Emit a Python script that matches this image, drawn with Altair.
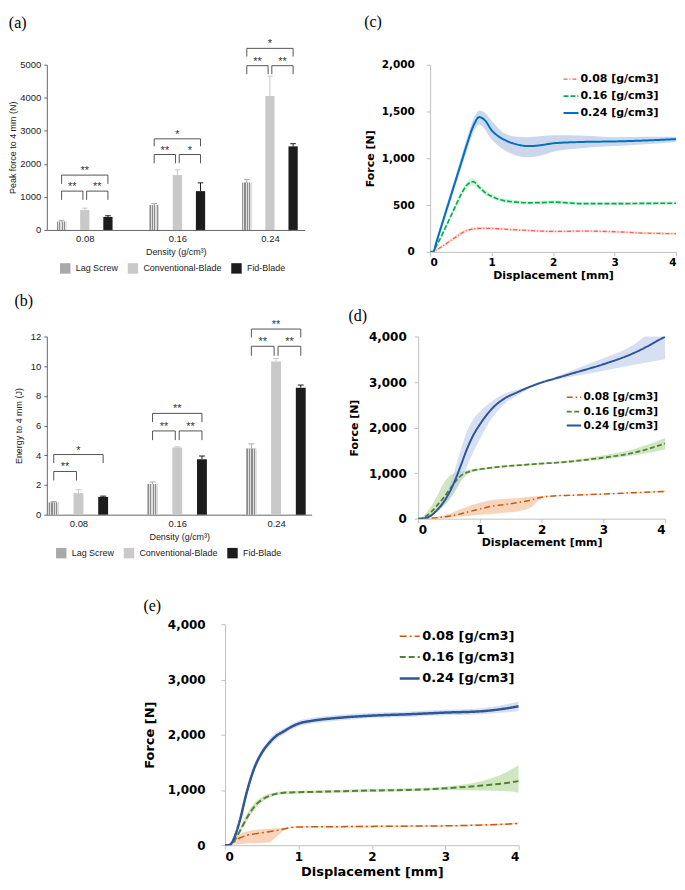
import altair as alt
import pandas as pd

# ---------------- categories ----------------
densities = ["0.08", "0.16", "0.24"]
devices = ["Lag Screw", "Conventional-Blade", "Fid-Blade"]

# ---------------- (a) peak force to 4 mm (N) ----------------
peak_lag = [250, 750, 1430]
peak_lag_sd = [40, 50, 100]
peak_conv = [605, 1660, 4050]
peak_conv_sd = [55, 160, 600]
peak_fid = [395, 1175, 2530]
peak_fid_sd = [35, 250, 80]
# (density idx, from device idx, to device idx, bracket level, bracket end, mark)
peak_sig = [
    (0, 0, 1, 1175, 910, "**"), (0, 1, 2, 1175, 910, "**"), (0, 0, 2, 1660, 1393, "**"),
    (1, 0, 1, 2283, 2016, "**"), (1, 1, 2, 2283, 2016, "*"), (1, 0, 2, 2757, 2530, "*"),
    (2, 0, 1, 4970, 4713, "**"), (2, 1, 2, 4970, 4713, "**"), (2, 0, 2, 5494, 5247, "*"),
]

# ---------------- (b) energy to 4 mm (J) ----------------
energy_lag = [0.82, 2.07, 4.45]
energy_lag_sd = [0.07, 0.13, 0.32]
energy_conv = [1.45, 4.52, 10.32]
energy_conv_sd = [0.23, 0.05, 0.2]
energy_fid = [1.2, 3.73, 8.55]
energy_fid_sd = [0.05, 0.22, 0.18]
energy_sig = [
    (0, 0, 1, 2.91, 2.3, "**"), (0, 0, 2, 4.05, 3.48, "*"),
    (1, 0, 1, 5.64, 5.02, "**"), (1, 1, 2, 5.64, 5.02, "**"), (1, 0, 2, 6.82, 6.23, "**"),
    (2, 0, 1, 11.34, 10.7, "**"), (2, 1, 2, 11.34, 10.7, "**"), (2, 0, 2, 12.5, 11.93, "**"),
]

# ---------------- (c) force-displacement ----------------
c_x = [0, 0.05, 0.1, 0.2, 0.3, 0.4, 0.5, 0.6, 0.7, 0.8, 0.9, 1.0, 1.1, 1.2, 1.4, 1.6, 1.8, 2.0, 2.5, 3.0, 3.5, 4.0]
c_008 = [0, 0, 20, 60, 105, 150, 195, 230, 245, 250, 250, 250, 247, 243, 235, 228, 222, 218, 222, 215, 200, 195]
c_008_lo = [0, 0, 10, 45, 88, 132, 176, 212, 228, 234, 235, 236, 234, 230, 222, 215, 209, 205, 210, 203, 188, 184]
c_008_hi = [0, 0, 30, 75, 122, 168, 214, 248, 262, 266, 265, 264, 260, 256, 248, 241, 235, 231, 234, 227, 212, 206]
c_016 = [0, 0, 60, 190, 330, 470, 610, 715, 750, 690, 630, 595, 565, 548, 532, 524, 526, 532, 515, 515, 518, 520]
c_016_lo = [0, 0, 45, 170, 305, 440, 575, 680, 710, 655, 600, 570, 543, 527, 512, 505, 507, 512, 498, 498, 500, 502]
c_016_hi = [0, 0, 75, 210, 355, 500, 645, 750, 790, 725, 660, 620, 587, 569, 552, 543, 545, 552, 532, 532, 536, 538]
c_024 = [0, 0, 100, 310, 520, 730, 940, 1150, 1340, 1440, 1400, 1300, 1240, 1200, 1150, 1130, 1140, 1160, 1175, 1180, 1190, 1205]
c_024_lo = [0, 0, 70, 270, 470, 680, 880, 1080, 1270, 1360, 1300, 1200, 1140, 1090, 1030, 1010, 1030, 1070, 1110, 1130, 1150, 1175]
c_024_hi = [0, 0, 130, 350, 570, 780, 1000, 1220, 1410, 1510, 1480, 1400, 1330, 1270, 1230, 1225, 1235, 1245, 1240, 1225, 1230, 1230]

# ---------------- (d) force-displacement ----------------
d_x = [0, 0.05, 0.1, 0.2, 0.3, 0.4, 0.5, 0.6, 0.7, 0.8, 0.9, 1.0, 1.1, 1.2, 1.4, 1.6, 1.8, 2.0, 2.2, 2.5, 3.0, 3.5, 4.0]
d_008 = [0, 0, 0, 10, 20, 35, 55, 80, 110, 145, 180, 215, 245, 275, 310, 350, 400, 470, 500, 515, 540, 570, 600]
d_008_lo = [0, 0, 0, 0, 5, 10, 20, 30, 45, 60, 70, 85, 95, 105, 130, 160, 230, 440, 490, 505, 530, 560, 580]
d_008_hi = [0, 0, 5, 20, 40, 70, 110, 160, 210, 260, 310, 350, 385, 410, 430, 450, 480, 495, 510, 525, 550, 580, 620]
d_016 = [0, 0, 30, 130, 280, 440, 620, 810, 950, 1020, 1060, 1085, 1105, 1120, 1150, 1170, 1190, 1210, 1225, 1260, 1340, 1450, 1650]
d_016_lo = [0, 0, 10, 60, 150, 260, 400, 600, 830, 970, 1030, 1060, 1080, 1095, 1130, 1150, 1170, 1190, 1205, 1235, 1300, 1390, 1520]
d_016_hi = [0, 10, 80, 250, 480, 750, 930, 1010, 1040, 1065, 1090, 1110, 1130, 1145, 1170, 1190, 1210, 1230, 1250, 1290, 1390, 1530, 1770]
d_024 = [0, 0, 10, 60, 180, 340, 560, 850, 1200, 1560, 1850, 2070, 2260, 2420, 2640, 2770, 2890, 2990, 3070, 3190, 3390, 3640, 4000]
d_024_lo = [0, 0, 5, 40, 140, 280, 430, 620, 880, 1180, 1480, 1750, 2000, 2220, 2520, 2700, 2860, 2980, 3040, 3120, 3250, 3380, 3500]
d_024_hi = [0, 0, 20, 80, 220, 400, 700, 1100, 1550, 1950, 2200, 2350, 2480, 2580, 2740, 2830, 2910, 3000, 3100, 3260, 3520, 3830, 4400]

# ---------------- (e) force-displacement ----------------
e_x = [0, 0.05, 0.1, 0.15, 0.2, 0.3, 0.4, 0.5, 0.6, 0.7, 0.8, 0.9, 1.0, 1.2, 1.5, 2.0, 2.5, 3.0, 3.5, 3.8, 4.0]
e_008 = [0, 0, 30, 90, 130, 180, 205, 225, 245, 265, 295, 320, 330, 333, 335, 340, 345, 350, 365, 380, 395]
e_008_lo = [0, 0, 5, 15, 20, 30, 35, 40, 55, 150, 260, 310, 318, 320, 322, 327, 332, 337, 350, 365, 378]
e_008_hi = [0, 0, 60, 150, 200, 250, 275, 290, 300, 305, 315, 330, 345, 348, 350, 355, 360, 365, 380, 395, 412]
e_016 = [0, 0, 40, 130, 250, 500, 700, 820, 890, 930, 950, 955, 960, 965, 975, 990, 1000, 1030, 1080, 1120, 1160]
e_016_lo = [0, 0, 20, 100, 210, 440, 640, 780, 860, 905, 925, 932, 937, 942, 950, 965, 975, 1000, 990, 980, 950]
e_016_hi = [0, 10, 60, 170, 300, 570, 770, 870, 930, 960, 975, 980, 985, 990, 1000, 1015, 1030, 1060, 1160, 1300, 1450]
e_024 = [0, 0, 60, 220, 440, 980, 1400, 1670, 1850, 1980, 2060, 2140, 2200, 2255, 2300, 2345, 2370, 2400, 2425, 2470, 2515]
e_024_lo = [0, 0, 30, 170, 380, 920, 1340, 1610, 1790, 1920, 2010, 2090, 2150, 2205, 2250, 2300, 2320, 2350, 2370, 2400, 2430]
e_024_hi = [0, 10, 90, 270, 500, 1040, 1460, 1730, 1910, 2040, 2110, 2190, 2250, 2305, 2350, 2395, 2420, 2450, 2480, 2540, 2600]

SANS = "Liberation Sans"
BOLD = "DejaVu Sans"
SERIF = "Liberation Serif"
bar_colors = ["#a9a9a9", "#c9c9c9", "#1c1c1c"]


def hatch():
    stops = []
    n = 4
    for k in range(n):
        a, m, b = k / n, (k + 0.5) / n, (k + 1) / n
        stops += [alt.GradientStop(color="#8c8c8c", offset=a), alt.GradientStop(color="#8c8c8c", offset=m),
                  alt.GradientStop(color="#e0e0e0", offset=m), alt.GradientStop(color="#e0e0e0", offset=b)]
    return alt.LinearGradient(gradient="linear", stops=stops, x1=0, x2=1, y1=0, y2=0)


def ptitle(lines, offset, lh=None):
    kw = dict(text=lines, anchor="start", font=SERIF, fontSize=16, fontWeight="normal",
              color="#000", offset=offset, frame="bounds")
    if lh is not None:
        kw["lineHeight"] = lh
    return alt.TitleParams(**kw)


def bar_panel(lab, means, sds, sig, ymax, ystep, ytitle, xdom, w, h, half, lx, ly, t_off, ytpad):
    offs = [-0.25, 0.0, 0.25]
    cap, gap = 0.03, 0.02
    rows = []
    for di, dev in enumerate(devices):
        for gi in range(len(densities)):
            p = gi + offs[di]
            m = means[di][gi]
            rows.append({"device": dev, "pos": p, "l": p - half, "r": p + half, "cl": p - cap,
                         "cr": p + cap, "mean": m, "top": m + sds[di][gi], "zero": 0})
    bdf = pd.DataFrame(rows)
    srows = []
    for gi, a, b, yl, ye, txt in sig:
        xl = gi + offs[a] + (gap if a == 1 else 0)
        xr = gi + offs[b] - (gap if b == 1 else 0)
        srows.append({"xl": xl, "xr": xr, "xm": (xl + xr) / 2, "yl": yl, "ye": ye, "txt": txt})
    sdf = pd.DataFrame(srows)
    xs = alt.Scale(domain=xdom, nice=False, zero=False)
    ys = alt.Scale(domain=[0, ymax], nice=False, zero=True)
    lab_expr = "[" + ",".join(f"'{d}'" for d in densities) + "][datum.value]"
    xa = alt.Axis(values=list(range(len(densities))), labelExpr=lab_expr, ticks=False, grid=False,
                  domainColor="#666", labelFont=SANS, labelFontSize=9.5, labelColor="#222",
                  labelPadding=4, title="Density (g/cm³)", titleFont=SANS, titleFontSize=9,
                  titleFontWeight="normal", titleColor="#222", titlePadding=4)
    ya = alt.Axis(values=list(range(0, ymax + 1, ystep)), format="d", grid=False, domainColor="#666",
                  tickColor="#666", tickSize=3, labelFont=SANS, labelFontSize=9.5, labelColor="#222",
                  labelPadding=3, title=ytitle, titleFont=SANS, titleFontSize=9,
                  titleFontWeight="normal", titleColor="#222", titlePadding=ytpad)
    cs = alt.Scale(domain=devices, range=bar_colors)
    leg = alt.Legend(title=None, orient="none", legendX=lx, legendY=ly, direction="horizontal",
                     symbolType="square", symbolSize=110, symbolStrokeWidth=0, labelFont=SANS,
                     labelFontSize=9, labelFontWeight="normal", labelColor="#222", labelOffset=5,
                     columnPadding=9, padding=0)

    def X(f):
        return alt.X(f, scale=xs, axis=xa)

    def Y(f):
        return alt.Y(f, scale=ys, axis=ya)

    col = alt.Color("device:N", scale=cs, legend=leg)
    bars = alt.Chart(bdf).mark_bar().encode(x=X("l:Q"), x2="r:Q", y=Y("mean:Q"), y2="zero:Q", color=col)
    hat = alt.Chart(bdf).transform_filter(alt.datum.device == devices[0]).mark_bar(fill=hatch()).encode(
        x=X("l:Q"), x2="r:Q", y=Y("mean:Q"), y2="zero:Q")
    err = alt.Chart(bdf).mark_rule(strokeWidth=1).encode(x=X("pos:Q"), y=Y("mean:Q"), y2="top:Q", color=col)
    caps = alt.Chart(bdf).mark_rule(strokeWidth=1).encode(x=X("cl:Q"), x2="cr:Q", y=Y("top:Q"), color=col)
    hl = alt.Chart(sdf).mark_rule(color="#555", strokeWidth=1).encode(x=X("xl:Q"), x2="xr:Q", y=Y("yl:Q"))
    vl = alt.Chart(sdf).mark_rule(color="#555", strokeWidth=1).encode(x=X("xl:Q"), y=Y("ye:Q"), y2="yl:Q")
    vr = alt.Chart(sdf).mark_rule(color="#555", strokeWidth=1).encode(x=X("xr:Q"), y=Y("ye:Q"), y2="yl:Q")
    tx = alt.Chart(sdf).mark_text(font=SANS, fontSize=11, color="#333", baseline="middle", dy=-4).encode(
        x=X("xm:Q"), y=Y("yl:Q"), text="txt:N")
    return alt.layer(bars, hat, err, caps, hl, vl, vr, tx).properties(
        width=w, height=h, title=ptitle(lab, t_off))


def line_panel(title, xs_, series, ymax, ystep, w, h, cols, bcols, bop, dashes, widths,
               tfs, ttfs, lfs, lpad, tpad, xtpad, lx, ly, sym, rpad):
    labs = [f"{d} [g/cm3]" for d in densities]
    blabs = [f"band {d}" for d in densities]
    rows = []
    for lb, bl, (yv, lo, hi) in zip(labs, blabs, series):
        for x, y, a, b in zip(xs_, yv, lo, hi):
            rows.append({"lab": lb, "band": bl, "x": x, "y": y, "lo": a, "hi": b})
    df = pd.DataFrame(rows)
    xs = alt.Scale(domain=[0, 4], nice=False)
    ys = alt.Scale(domain=[0, ymax], nice=False)
    xa = alt.Axis(values=[0, 1, 2, 3, 4], format="d", grid=False, domainColor="#c0c0c0",
                  tickColor="#c0c0c0", tickSize=4, labelFont=BOLD, labelFontSize=tfs,
                  labelFontWeight="bold", labelColor="#000", labelPadding=2,
                  title="Displacement [mm]", titleFont=BOLD, titleFontSize=ttfs,
                  titleFontWeight="bold", titleColor="#000", titlePadding=xtpad)
    ya = alt.Axis(values=list(range(0, ymax + 1, ystep)), format=",.0f", grid=False,
                  domainColor="#c0c0c0", tickColor="#c0c0c0", tickSize=4, labelFont=BOLD,
                  labelFontSize=tfs, labelFontWeight="bold", labelColor="#000", labelPadding=lpad,
                  title="Force [N]", titleFont=BOLD, titleFontSize=ttfs, titleFontWeight="bold",
                  titleColor="#000", titlePadding=tpad)
    leg = alt.Legend(title=None, orient="none", legendX=lx, legendY=ly, symbolType="stroke",
                     symbolSize=sym, labelFont=BOLD, labelFontSize=lfs, labelFontWeight="bold",
                     labelColor="#000", labelOffset=1, rowPadding=rpad, padding=0)
    band = alt.Chart(df).mark_area(opacity=bop, interpolate="monotone", clip=True).encode(
        x=alt.X("x:Q", scale=xs, axis=xa), y=alt.Y("lo:Q", scale=ys, axis=ya), y2="hi:Q",
        fill=alt.Fill("band:N", scale=alt.Scale(domain=blabs, range=bcols), legend=None))
    line = alt.Chart(df).mark_line(interpolate="monotone", clip=True).encode(
        x=alt.X("x:Q", scale=xs, axis=xa), y=alt.Y("y:Q", scale=ys, axis=ya),
        color=alt.Color("lab:N", scale=alt.Scale(domain=labs, range=cols), legend=leg),
        strokeDash=alt.StrokeDash("lab:N", scale=alt.Scale(domain=labs, range=dashes), legend=leg),
        strokeWidth=alt.StrokeWidth("lab:N", scale=alt.Scale(domain=labs, range=widths), legend=leg))
    return alt.layer(band, line).properties(width=w, height=h, title=title)


excel_cols = ["#ff5b4f", "#00b050", "#0070c0"]
excel_bands = ["#f8c4b8", "#bfe3c8", "#a9bcdc"]
dark_cols = ["#c55a11", "#548235", "#2f5597"]
dark_bands = ["#f4b183", "#a9d18e", "#b4c7e7"]

pa = bar_panel("(a)", [peak_lag, peak_conv, peak_fid], [peak_lag_sd, peak_conv_sd, peak_fid_sd], peak_sig,
               5000, 1000, "Peak force to 4 mm  (N)", [-0.41, 2.375], 259, 166, 0.05, 13, 199, 7, 2)
pb = bar_panel("(b)", [energy_lag, energy_conv, energy_fid], [energy_lag_sd, energy_conv_sd, energy_fid_sd],
               energy_sig, 12, 2, "Energy to 4 mm  (J)", [-0.32, 2.36], 266, 179, 0.05, 9, 212, 10, 7)
pc = line_panel(ptitle(["", "(c)"], 30, 4), c_x,
                [(c_008, c_008_lo, c_008_hi), (c_016, c_016_lo, c_016_hi), (c_024, c_024_lo, c_024_hi)],
                2000, 500, 247, 188, excel_cols, excel_bands, 0.6,
                [[4, 2, 1, 2], [5, 2], [1, 0]], [1.3, 2, 2], 10.5, 11, 11, 12, 6, 1, 133, 6, 225, 3)
pd_ = line_panel(ptitle(["", "(d)"], 7, 6), d_x,
                 [(d_008, d_008_lo, d_008_hi), (d_016, d_016_lo, d_016_hi), (d_024, d_024_lo, d_024_hi)],
                 4000, 1000, 248, 183, dark_cols, dark_bands, 0.55,
                 [[6, 3, 1.5, 3], [5, 2.5], [1, 0]], [1.5, 2, 2], 12, 11, 10.5, 8, 9, 1, 148, 53, 210, 0)
pe = line_panel(ptitle("(e)", 4), e_x,
                [(e_008, e_008_lo, e_008_hi), (e_016, e_016_lo, e_016_hi), (e_024, e_024_lo, e_024_hi)],
                4000, 1000, 295, 222, dark_cols, dark_bands, 0.55,
                [[7, 3, 2, 3], [6, 3], [1, 0]], [1.5, 2.5, 2.2], 12, 13, 13, 16, 11, 3, 174, 1, 400, 3)

spacer = alt.Chart(pd.DataFrame({"v": [0.5]})).mark_point(opacity=0, size=1).encode(
    x=alt.X("v:Q", axis=None, scale=alt.Scale(domain=[0, 1])),
    y=alt.Y("v:Q", axis=None, scale=alt.Scale(domain=[0, 1]))).properties(width=82, height=10)

IND = dict(color="independent", fill="independent", strokeDash="independent", strokeWidth="independent")

row1 = alt.concat(pa, pc, columns=2, align="none", spacing=59).resolve_scale(**IND)
row2 = alt.concat(pb, pd_, columns=2, align="none", spacing=37).resolve_scale(**IND)
row3 = alt.concat(spacer, pe, columns=2, align="none", spacing=15).resolve_scale(**IND)
top = alt.concat(row1, row2, columns=1, align="none", spacing=12).resolve_scale(**IND)
chart = alt.concat(top, row3, columns=1, align="none", spacing=40).resolve_scale(**IND).properties(
    padding=0).configure_view(strokeWidth=0)

chart.save("out.html", embed_options={"renderer": "svg", "actions": False})
